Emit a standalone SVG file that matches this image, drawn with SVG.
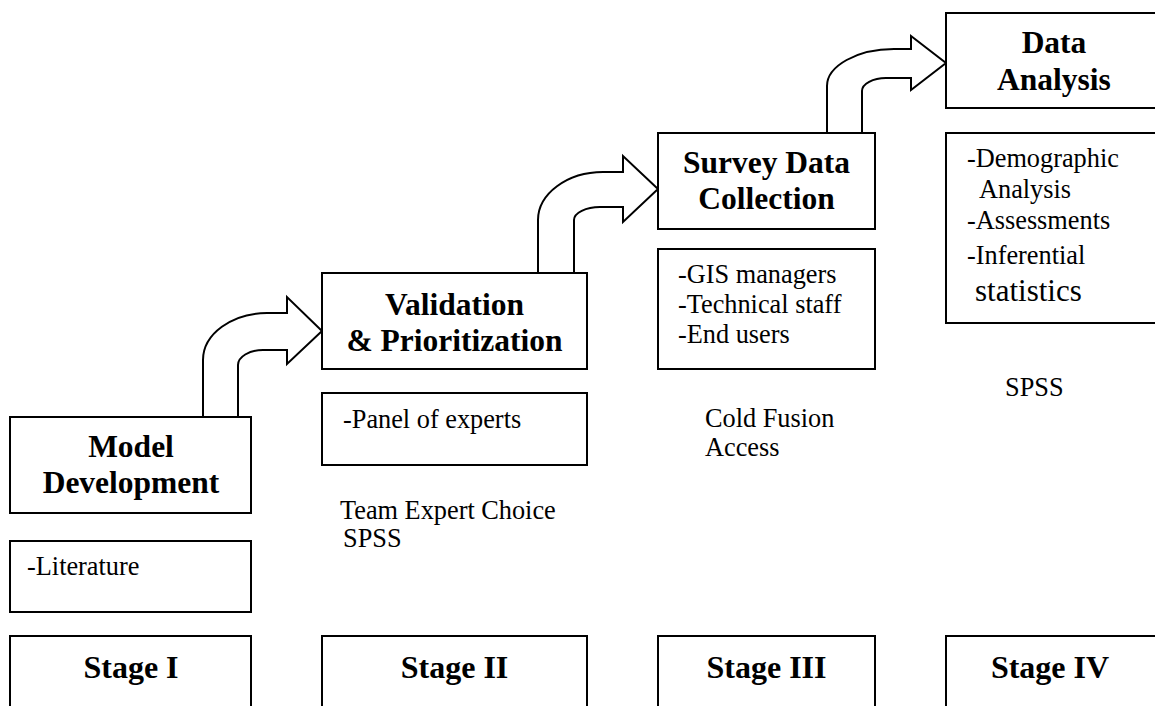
<svg xmlns="http://www.w3.org/2000/svg" width="1155" height="706" viewBox="0 0 1155 706">
<style>
.box{fill:#fff;stroke:#000;stroke-width:2}
.arr{fill:#fff;stroke:#000;stroke-width:2;stroke-linejoin:miter}
.t{font-family:"Liberation Serif","Times New Roman",serif;font-weight:bold;font-size:31.5px;fill:#000;text-anchor:middle}
.s{font-family:"Liberation Serif","Times New Roman",serif;font-weight:bold;font-size:32px;fill:#000;text-anchor:middle}
.n{font-family:"Liberation Serif","Times New Roman",serif;font-size:26.3px;fill:#000}
.b{font-family:"Liberation Serif","Times New Roman",serif;font-size:31px;fill:#000}
</style>
<rect width="1155" height="706" fill="#fff"/>
<g id="connectors">
<path class="arr" d="M203,417 L203,360 C203,334 232,313 267,313 L287,313 L287,297 L322,331 L287,364 L287,350 L263,350 C249,350 238,357 238,365 L238,417"/>
<path class="arr" d="M538,273 L538,220 C538,194 567,172 603,172 L623,172 L623,156 L658,189 L623,222 L623,207 L600,207 C586,207 574,213 574,220 L574,273"/>
<path class="arr" d="M827,132 L827,86 C827,66 857,49 894,49 L911,49 L911,36 L946,63 L911,90 L911,78 L886,78 C873,78 862,84 862,91 L862,132"/>
</g>
<g id="model-development">
<rect class="box" x="10" y="417" width="241" height="96"/>
<text class="t" x="131" y="457">Model</text>
<text class="t" x="131" y="493">Development</text>
</g>
<g id="literature">
<rect class="box" x="10" y="541" width="241" height="71"/>
<text class="n" x="27" y="575">-Literature</text>
</g>
<g id="stage-1">
<rect class="box" x="10" y="636" width="241" height="90"/>
<text class="s" x="131" y="678">Stage I</text>
</g>
<g id="validation">
<rect class="box" x="322" y="273" width="265" height="96"/>
<text class="t" x="454.5" y="315">Validation</text>
<text class="t" x="454.5" y="351">&amp; Prioritization</text>
</g>
<g id="panel">
<rect class="box" x="322" y="393" width="265" height="72"/>
<text class="n" x="343" y="428">-Panel of experts</text>
</g>
<g id="tools-2">
<text class="n" x="340" y="519">Team Expert Choice</text>
<text class="n" x="343" y="547">SPSS</text>
</g>
<g id="stage-2">
<rect class="box" x="322" y="636" width="265" height="90"/>
<text class="s" x="454.5" y="678">Stage II</text>
</g>
<g id="survey">
<rect class="box" x="658" y="133" width="217" height="96"/>
<text class="t" x="766.5" y="173">Survey Data</text>
<text class="t" x="766.5" y="209">Collection</text>
</g>
<g id="respondents">
<rect class="box" x="658" y="249" width="217" height="120"/>
<text class="n" x="678" y="283">-GIS managers</text>
<text class="n" x="678" y="313">-Technical staff</text>
<text class="n" x="678" y="343">-End users</text>
</g>
<g id="tools-3">
<text class="n" x="705" y="427">Cold Fusion</text>
<text class="n" x="705" y="456">Access</text>
</g>
<g id="stage-3">
<rect class="box" x="658" y="636" width="217" height="90"/>
<text class="s" x="766.5" y="678">Stage III</text>
</g>
<g id="data-analysis">
<rect class="box" x="946" y="13" width="220" height="95"/>
<text class="t" x="1054" y="53">Data</text>
<text class="t" x="1054" y="90">Analysis</text>
</g>
<g id="analyses">
<rect class="box" x="946" y="133" width="220" height="190"/>
<text class="n" x="967" y="167">-Demographic</text>
<text class="n" x="979" y="198">Analysis</text>
<text class="n" x="967" y="229">-Assessments</text>
<text class="n" x="967" y="264">-Inferential</text>
<text class="b" x="975" y="301">statistics</text>
</g>
<g id="tools-4">
<text class="n" x="1005" y="396">SPSS</text>
</g>
<g id="stage-4">
<rect class="box" x="946" y="636" width="220" height="90"/>
<text class="s" x="1050" y="678">Stage IV</text>
</g>
</svg>
